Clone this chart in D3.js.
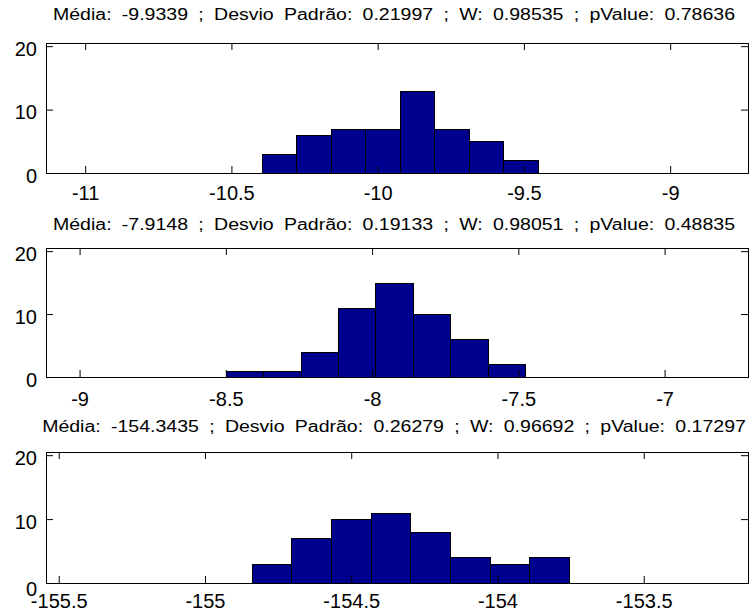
<!DOCTYPE html>
<html>
<head>
<meta charset="utf-8">
<script src="https://cdn.jsdelivr.net/npm/d3@7"></script>
<style>
  html, body { margin: 0; padding: 0; background: #fff; }
  svg { display: block; }
  text { font-family: "Liberation Sans", Arial, Helvetica, sans-serif; fill: #000; }
</style>
</head>
<body>
<svg id="chart" width="752" height="612"></svg>
<script>
// Summary statistics printed above each histogram
const means   = [-9.9339, -7.9148, -154.3435];
const stdDevs = [0.21997, 0.19133, 0.26279];
const wStats  = [0.98535, 0.98051, 0.96692];
const pValues = [0.78636, 0.48835, 0.17297];

// Histogram bins: first bin edge, bin width and counts for each panel
const binStarts = [-10.396, -8.5004, -154.840];
const binWidths = [0.1179, 0.1279, 0.1356];
const counts1 = [3, 6, 7, 7, 13, 7, 5, 2];
const counts2 = [1, 1, 4, 11, 15, 10, 6, 2];
const counts3 = [3, 7, 10, 11, 8, 4, 3, 4];
const binCounts = [counts1, counts2, counts3];

// Axis limits and tick values
const xDomains = [[-11.1339, -8.7339], [-9.1148, -6.7148], [-155.5435, -153.1435]];
const xTicks1 = [-11, -10.5, -10, -9.5, -9];
const xTicks2 = [-9, -8.5, -8, -7.5, -7];
const xTicks3 = [-155.5, -155, -154.5, -154, -153.5];
const xTickSets = [xTicks1, xTicks2, xTicks3];
const yDomain = [0, 20.5];
const yTicks = [0, 10, 20];

// Layout of the three stacked axes
const plotLeft = 46, plotRight = 748;
const panelTops = [43, 248, 452];
const panelBottoms = [173, 377, 583];
const titleBaselines = [20, 230, 432];
const xLabelBaselineGap = [26.5, 29, 25];
const zeroLabelShift = [0, 0, 3];
const tickLen = 7;
const titleCenter = 394;
const firstTitleWidth = 682;
const barFill = "#00008f";

const svg = d3.select("#chart");
const fmt = d => String(d);

const titles = means.map((m, i) =>
  `Média: ${m} ; Desvio Padrão: ${stdDevs[i]} ;  W: ${wStats[i]} ; pValue: ${pValues[i]}`);

let refNatural = null;

titles.forEach((title, i) => {
  const top = panelTops[i], bottom = panelBottoms[i];
  const x = d3.scaleLinear().domain(xDomains[i]).range([plotLeft, plotRight]);
  const y = d3.scaleLinear().domain(yDomain).range([bottom, top]);
  const g = svg.append("g");

  // histogram bars
  const counts = binCounts[i];
  const bars = counts.map((c, k) => ({
    x0: binStarts[i] + k * binWidths[i],
    x1: binStarts[i] + (k + 1) * binWidths[i],
    count: c
  }));
  g.append("g").selectAll("rect").data(bars).join("rect")
    .attr("x", d => Math.round(x(d.x0)) + 0.5)
    .attr("width", d => Math.round(x(d.x1)) - Math.round(x(d.x0)))
    .attr("y", d => Math.round(y(d.count)) + 0.5)
    .attr("height", d => Math.round(y(0)) - Math.round(y(d.count)))
    .attr("fill", barFill)
    .attr("stroke", "#000")
    .attr("stroke-width", 1);

  // bottom axis with labels, ticks pointing inward
  const xb = g.append("g").attr("transform", `translate(0,${bottom})`)
    .call(d3.axisBottom(x).tickValues(xTickSets[i]).tickFormat(fmt)
      .tickSizeInner(-tickLen).tickSizeOuter(0).tickPadding(xLabelBaselineGap[i] - 14.2));
  // top axis: mirrored ticks only
  const xt = g.append("g").attr("transform", `translate(0,${top})`)
    .call(d3.axisTop(x).tickValues(xTickSets[i]).tickFormat("")
      .tickSizeInner(-tickLen).tickSizeOuter(0));
  // left axis with labels
  const yl = g.append("g").attr("transform", `translate(${plotLeft},0)`)
    .call(d3.axisLeft(y).tickValues(yTicks).tickFormat(fmt)
      .tickSizeInner(-tickLen).tickSizeOuter(0).tickPadding(9));
  // right axis: mirrored ticks only
  const yr = g.append("g").attr("transform", `translate(${plotRight},0)`)
    .call(d3.axisRight(y).tickValues(yTicks).tickFormat("")
      .tickSizeInner(-tickLen).tickSizeOuter(0));

  [xb, xt, yl, yr].forEach(a => {
    a.select(".domain").remove();
    a.attr("font-family", null).attr("font-size", null);
    a.selectAll("line").attr("stroke", "#000");
  });
  xb.selectAll("text").attr("font-size", 20).attr("fill", "#000");
  yl.selectAll("text").attr("font-size", 20).attr("fill", "#000")
    .attr("dy", d => d === 0 ? (9 + zeroLabelShift[i]) + "px" : "9px");

  // axes box
  g.append("rect")
    .attr("x", plotLeft + 0.5).attr("y", top + 0.5)
    .attr("width", plotRight - plotLeft).attr("height", bottom - top)
    .attr("fill", "none").attr("stroke", "#000").attr("stroke-width", 1);

  // panel title
  const t = g.append("text")
    .attr("x", titleCenter).attr("y", titleBaselines[i])
    .attr("text-anchor", "middle")
    .attr("font-size", 16)
    .attr("word-spacing", "4px")
    .text(title);
  const natural = t.node().getComputedTextLength();
  if (refNatural === null) refNatural = natural;
  t.attr("textLength", firstTitleWidth * natural / refNatural)
   .attr("lengthAdjust", "spacingAndGlyphs");
});
</script>
</body>
</html>
